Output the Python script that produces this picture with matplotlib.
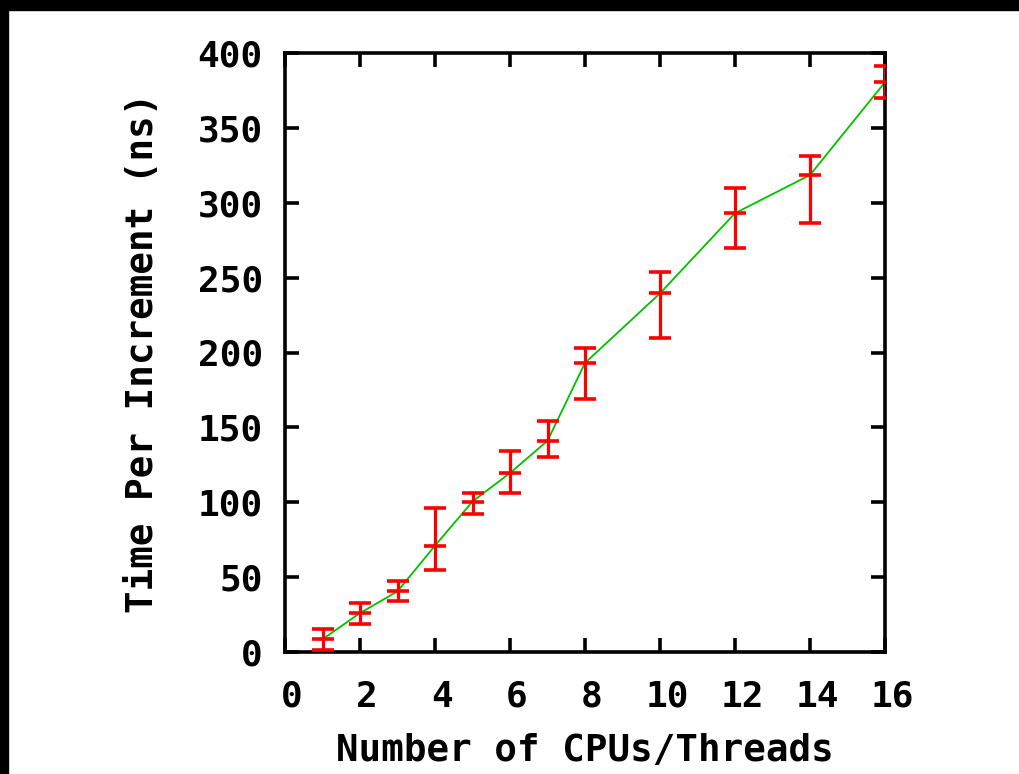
import numpy as np
import matplotlib
matplotlib.use("Agg")
import matplotlib.pyplot as plt
import matplotlib.transforms as mtransforms
from matplotlib.patches import Rectangle

# data (value, lower end, upper end of error bar)
threads = [1, 2, 3, 4, 5, 6, 7, 8, 10, 12, 14, 16]
time_ns = [8.5, 26, 40.5, 71, 100.5, 119.5, 141, 193, 239.5, 293, 318.5, 380.5]
time_lo = [1.5, 19, 34, 55, 92, 106.5, 130.5, 169, 209.5, 269.5, 286.5, 370]
time_hi = [15.5, 32.5, 47.5, 96, 106.5, 134.5, 154, 203, 254, 310, 331.5, 391.5]

x_ticks = [0, 2, 4, 6, 8, 10, 12, 14, 16]
y_ticks = [0, 50, 100, 150, 200, 250, 300, 350, 400]

plt.rcParams['font.family'] = ['DejaVu Sans Mono']
plt.rcParams['font.weight'] = 'bold'

fig = plt.figure(figsize=(10.2, 7.74), dpi=100)
ax = fig.add_axes([285/1020, 122/774, 600/1020, 599/774])

#black frame bits at top and left
fig.patches.append(Rectangle((0, 1 - 10/774), 1, 10/774, transform=fig.transFigure,
                             color='black', zorder=10))
fig.patches.append(Rectangle((0, 0), 8/1020, 1, transform=fig.transFigure,
                             color='black', zorder=10))

t = np.array(time_ns)
yerr = [t - np.array(time_lo), np.array(time_hi) - t]

ax.plot(threads, time_ns, color='#00c000', linewidth=1.3, zorder=2)
ax.errorbar(threads, time_ns, yerr=yerr, fmt='none', ecolor='#ff0000',
            elinewidth=2.3, capsize=8, capthick=2.6, zorder=3)
ax.plot(threads, time_ns, linestyle='none', marker='_', markersize=16,
        markeredgewidth=2.6, color='#ff0000', zorder=3)

ax.set_xlim(0, 16)
ax.set_ylim(0, 400)
ax.set_xticks(x_ticks)
ax.set_yticks(y_ticks)
ax.tick_params(direction='in', length=10, width=2.6, top=True, right=True,
               labelsize=26)
ax.tick_params(axis='x', pad=20)
ax.tick_params(axis='y', pad=16)
shift = mtransforms.ScaledTranslation(7/100, 0, fig.dpi_scale_trans)
for lab in ax.get_xticklabels():
    lab.set_transform(lab.get_transform() + shift)
for lab in ax.get_xticklabels() + ax.get_yticklabels():
    lab.set_fontweight('bold')
for s in ax.spines.values():
    s.set_linewidth(2.6)

ax.set_xlabel('Number of CPUs/Threads', fontsize=27, fontweight='bold', labelpad=14)
ax.set_ylabel('Time Per Increment (ns)', fontsize=27, fontweight='bold', labelpad=26)

fig.savefig('out.png', dpi=100, facecolor='white')
